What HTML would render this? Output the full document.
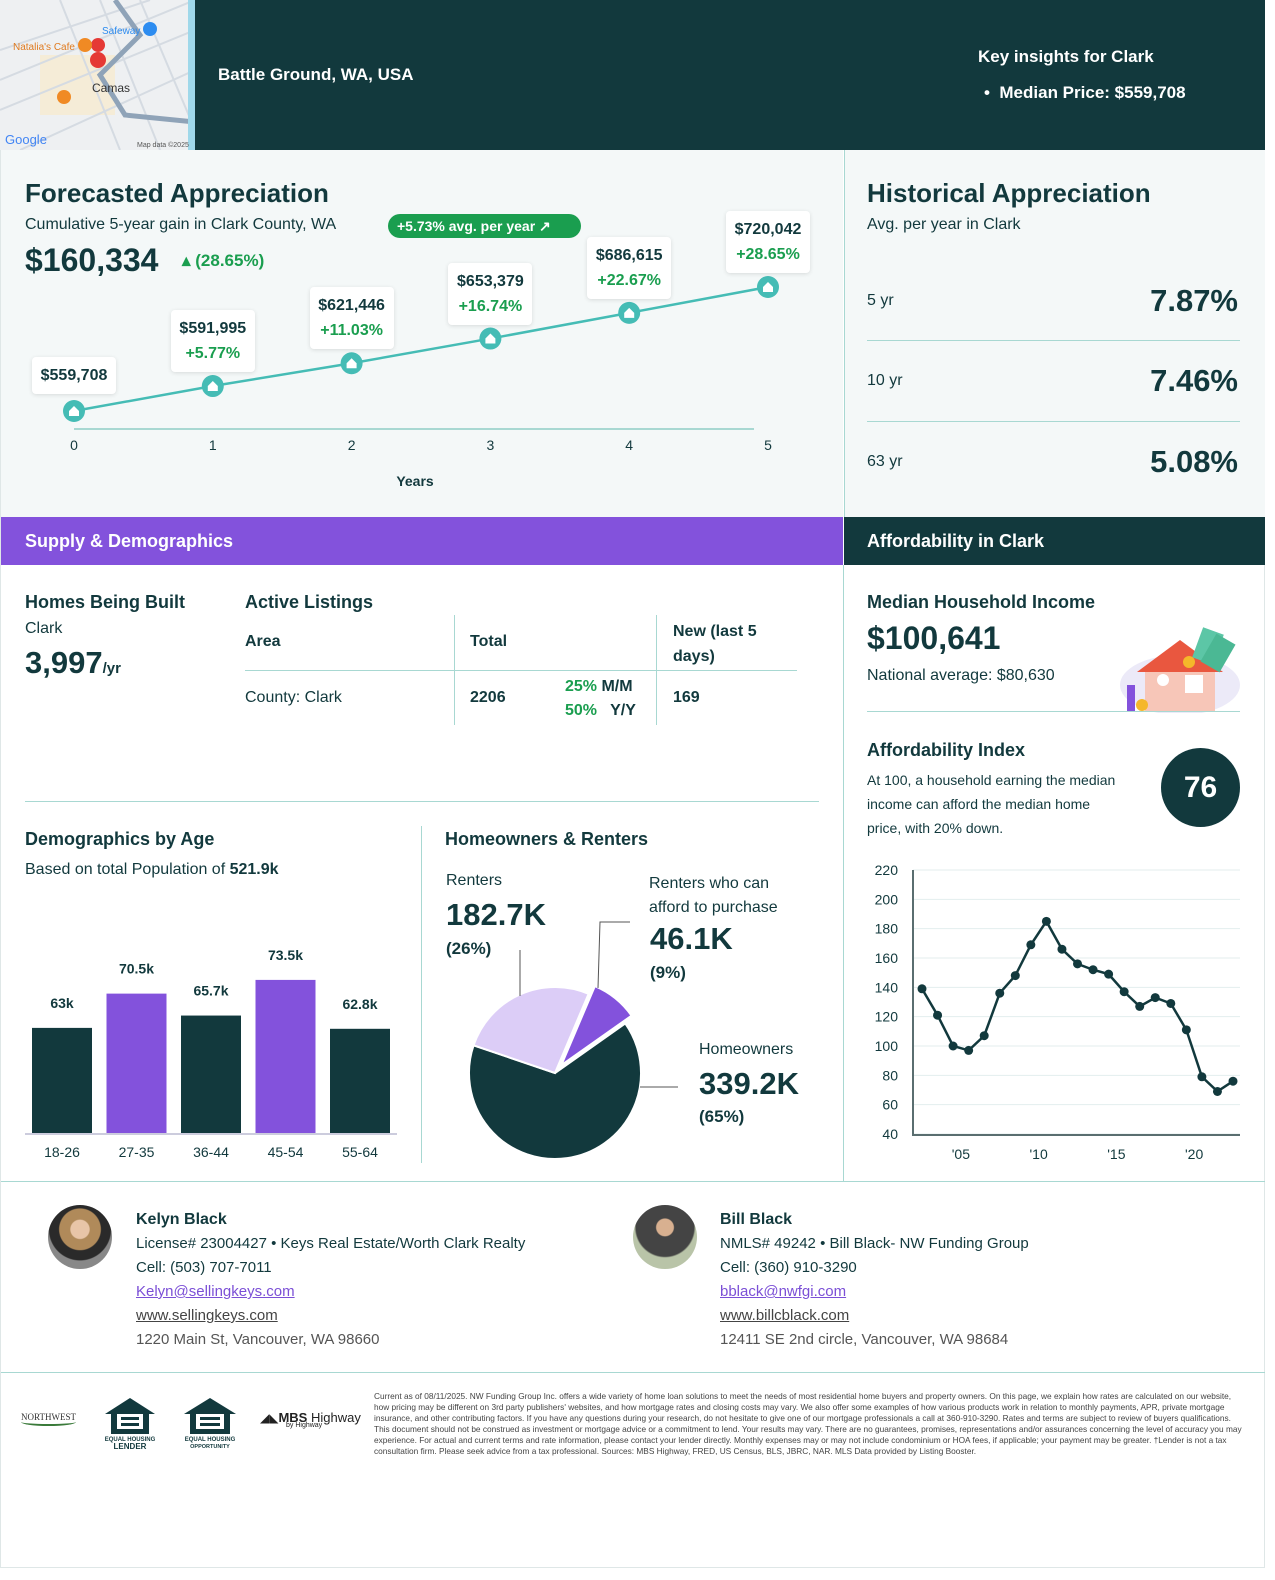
<!DOCTYPE html>
<html><head><meta charset="utf-8">
<style>
*{box-sizing:border-box;margin:0;padding:0}
html{overflow:hidden;width:1275px;height:1580px}
body{width:1275px;height:1580px;background:#fff;font-family:"Liberation Sans",sans-serif;color:#12393d;position:relative;overflow:hidden}
.a{position:absolute;white-space:nowrap}
.dark{color:#12393d}
.g{color:#1a9e4f}
.lbl{position:absolute;background:#fff;border-radius:4px;box-shadow:0 1px 4px rgba(0,0,0,.12);text-align:center;font-size:16px;font-weight:bold;padding:6px 8px;line-height:25px}
.lnk{color:#7b4fd6;text-decoration:underline}
</style></head><body>
<div class="a" style="left:0;top:0;width:1265px;height:1568px;border:1px solid #dfe7e7"></div>
<!-- header -->
<div class="a" style="left:0;top:0;width:1265px;height:150px;background:#12393d"></div>
<div class="a" style="left:0;top:0;width:195px;height:150px;background:#eef0f2;overflow:hidden">
<svg width="195" height="150">
<rect x="40" y="55" width="75" height="60" fill="#f5ecd7"/>
<g stroke="#d5dbe2" stroke-width="2"><line x1="0" y1="80" x2="195" y2="0"/><line x1="0" y1="110" x2="195" y2="30"/><line x1="0" y1="50" x2="150" y2="0"/><line x1="20" y1="150" x2="195" y2="70"/><line x1="60" y1="0" x2="120" y2="150"/><line x1="100" y1="0" x2="160" y2="150"/><line x1="140" y1="0" x2="195" y2="130"/></g>
<path d="M115 0 L140 35 L100 75 L125 115 L195 122" stroke="#8fa3b8" stroke-width="5" fill="none"/>
<rect x="188" y="0" width="7" height="150" fill="#9fd8ea"/>
<path d="M98 52 a7 7 0 1 1 0.1 0 L98 72 Z" fill="#e53935"/>
<circle cx="98" cy="60" r="8" fill="#e53935"/>
<circle cx="85" cy="45" r="7" fill="#f08a24"/><circle cx="64" cy="97" r="7" fill="#f08a24"/><circle cx="150" cy="29" r="7" fill="#2d8cf0"/>
<text x="13" y="50" font-size="10" fill="#e07b20" font-family="Liberation Sans">Natalia's Cafe</text>
<text x="102" y="34" font-size="10" fill="#2d8cf0" font-family="Liberation Sans">Safeway</text>
<text x="92" y="92" font-size="12" fill="#333" font-family="Liberation Sans">Camas</text>
<text x="5" y="144" font-size="13" fill="#4285f4" font-family="Liberation Sans">Google</text>
<text x="137" y="147" font-size="7" fill="#555" font-family="Liberation Sans">Map data ©2025</text>
</svg></div>
<div class="a" style="left:218px;top:65px;color:#fff;font-size:17px;font-weight:bold">Battle Ground, WA, USA</div>
<div class="a" style="left:978px;top:47px;color:#fff;font-size:17px;font-weight:bold">Key insights for Clark</div>
<div class="a" style="left:984px;top:83px;color:#fff;font-size:17px;font-weight:bold">•&nbsp; Median Price: $559,708</div>

<!-- forecast section -->
<div class="a" style="left:1px;top:150px;width:842px;height:367px;background:#f4f8f8"></div>
<div class="a" style="left:844px;top:150px;width:421px;height:367px;background:#f4f8f8;border-left:1px solid #a8d8d2"></div>
<div class="a" style="left:25px;top:178px;font-size:26px;font-weight:bold">Forecasted Appreciation</div>
<div class="a" style="left:25px;top:216px;font-size:16px">Cumulative 5-year gain in Clark County, WA</div>
<div class="a" style="left:388px;top:214px;width:193px;height:24px;background:#1a9e4f;border-radius:12px;color:#fff;font-size:14px;font-weight:bold;line-height:24px;padding-left:9px">+5.73% avg. per year ↗</div>
<div class="a" style="left:25px;top:242px;font-size:32px;font-weight:bold">$160,334</div>
<div class="a g" style="left:182px;top:251px;font-size:17px;font-weight:bold">▴ (28.65%)</div>
<svg class="a" id="fc" style="left:0;top:150px" width="843" height="360"></svg>
<div id="fclabels"></div>

<div class="a" style="left:867px;top:178px;font-size:26px;font-weight:bold">Historical Appreciation</div>
<div class="a" style="left:867px;top:216px;font-size:16px">Avg. per year in Clark</div>
<div class="a" style="left:867px;top:292px;font-size:16px">5 yr</div>
<div class="a" style="left:1100px;top:283px;width:138px;text-align:right;font-size:31px;font-weight:bold">7.87%</div>
<div class="a" style="left:867px;top:340px;width:373px;border-top:1px solid #a8d8d2"></div>
<div class="a" style="left:867px;top:372px;font-size:16px">10 yr</div>
<div class="a" style="left:1100px;top:363px;width:138px;text-align:right;font-size:31px;font-weight:bold">7.46%</div>
<div class="a" style="left:867px;top:421px;width:373px;border-top:1px solid #a8d8d2"></div>
<div class="a" style="left:867px;top:453px;font-size:16px">63 yr</div>
<div class="a" style="left:1100px;top:444px;width:138px;text-align:right;font-size:31px;font-weight:bold">5.08%</div>

<!-- bands -->
<div class="a" style="left:1px;top:517px;width:842px;height:48px;background:#8352dc;color:#fff;font-size:18px;font-weight:bold;line-height:48px;padding-left:24px">Supply &amp; Demographics</div>
<div class="a" style="left:844px;top:517px;width:421px;height:48px;background:#12393d;color:#fff;font-size:18px;font-weight:bold;line-height:48px;padding-left:23px">Affordability in Clark</div>
<div class="a" style="left:843px;top:565px;height:616px;border-left:1px solid #a8d8d2"></div>

<div class="a" style="left:25px;top:592px;font-size:18px;font-weight:bold">Homes Being Built</div>
<div class="a" style="left:25px;top:620px;font-size:16px">Clark</div>
<div class="a" style="left:25px;top:645px;font-size:31px;font-weight:bold">3,997<span style="font-size:15px">/yr</span></div>
<div class="a" style="left:245px;top:592px;font-size:18px;font-weight:bold">Active Listings</div>
<div class="a" style="left:245px;top:615px;width:552px;height:110px">
<div class="a" style="left:209px;top:0;height:110px;border-left:1px solid #a8d8d2"></div>
<div class="a" style="left:411px;top:0;height:110px;border-left:1px solid #a8d8d2"></div>
<div class="a" style="left:0;top:55px;width:552px;border-top:1px solid #a8d8d2"></div>
<div class="a" style="left:0;top:18px;font-size:16px;font-weight:bold">Area</div>
<div class="a" style="left:225px;top:18px;font-size:16px;font-weight:bold">Total</div>
<div class="a" style="left:428px;top:4px;font-size:16px;font-weight:bold;line-height:25px">New (last 5<br>days)</div>
<div class="a" style="left:0;top:74px;font-size:16px">County: Clark</div>
<div class="a" style="left:225px;top:74px;font-size:16px;font-weight:bold">2206</div>
<div class="a" style="left:320px;top:60px;font-size:16px;font-weight:bold;line-height:24px"><span class="g">25%</span> M/M<br><span class="g">50%</span>&nbsp;&nbsp; Y/Y</div>
<div class="a" style="left:428px;top:74px;font-size:16px;font-weight:bold">169</div>
</div>
<div class="a" style="left:25px;top:801px;width:794px;border-top:1px solid #a8d8d2"></div>

<div class="a" style="left:25px;top:829px;font-size:18px;font-weight:bold">Demographics by Age</div>
<div class="a" style="left:25px;top:861px;font-size:16px">Based on total Population of <b>521.9k</b></div>
<svg class="a" id="bars" style="left:0;top:930px" width="420" height="240"></svg>
<div class="a" style="left:421px;top:826px;height:337px;border-left:1px solid #a8d8d2"></div>

<div class="a" style="left:445px;top:829px;font-size:18px;font-weight:bold">Homeowners &amp; Renters</div>
<div class="a" style="left:446px;top:872px;font-size:16px">Renters</div>
<div class="a" style="left:446px;top:897px;font-size:31px;font-weight:bold">182.7K</div>
<div class="a" style="left:446px;top:939px;font-size:17px;font-weight:bold">(26%)</div>
<div class="a" style="left:649px;top:872px;font-size:16px;line-height:24px">Renters who can<br>afford to purchase</div>
<div class="a" style="left:650px;top:921px;font-size:31px;font-weight:bold">46.1K</div>
<div class="a" style="left:650px;top:963px;font-size:17px;font-weight:bold">(9%)</div>
<div class="a" style="left:699px;top:1041px;font-size:16px">Homeowners</div>
<div class="a" style="left:699px;top:1066px;font-size:31px;font-weight:bold">339.2K</div>
<div class="a" style="left:699px;top:1107px;font-size:17px;font-weight:bold">(65%)</div>
<svg class="a" id="pie" style="left:440px;top:900px" width="260" height="270"></svg>

<!-- affordability -->
<div class="a" style="left:867px;top:592px;font-size:18px;font-weight:bold">Median Household Income</div>
<div class="a" style="left:867px;top:620px;font-size:32px;font-weight:bold">$100,641</div>
<div class="a" style="left:867px;top:667px;font-size:16px">National average: $80,630</div>
<svg class="a" style="left:1115px;top:625px" width="125" height="88">
<ellipse cx="65" cy="60" rx="60" ry="30" fill="#eceaf8"/>
<rect x="30" y="45" width="70" height="42" fill="#f7c6b8"/><path d="M22 47 L65 15 L108 47 Z" fill="#e9573f"/>
<rect x="70" y="50" width="18" height="18" fill="#fff"/><circle cx="48" cy="55" r="6" fill="#fff"/>
<rect x="82" y="5" width="22" height="32" fill="#5cc6a6" transform="rotate(20 93 21)"/><rect x="92" y="12" width="22" height="32" fill="#4bb894" transform="rotate(30 103 28)"/>
<circle cx="74" cy="37" r="6" fill="#f5b72a"/><circle cx="27" cy="80" r="6" fill="#f5b72a"/><rect x="12" y="60" width="8" height="26" fill="#8352dc"/>
</svg>
<div class="a" style="left:867px;top:711px;width:373px;border-top:1px solid #a8d8d2"></div>
<div class="a" style="left:867px;top:740px;font-size:18px;font-weight:bold">Affordability Index</div>
<div class="a" style="left:867px;top:768px;font-size:14px;line-height:24px">At 100, a household earning the median<br>income can afford the median home<br>price, with 20% down.</div>
<div class="a" style="left:1161px;top:748px;width:79px;height:79px;border-radius:50%;background:#12393d;color:#fff;font-size:30px;font-weight:bold;text-align:center;line-height:79px">76</div>
<svg class="a" id="line" style="left:850px;top:855px" width="400" height="320"></svg>

<!-- agents -->
<div class="a" style="left:1px;top:1181px;width:1264px;border-top:1px solid #a8d8d2"></div>
<div class="a" style="left:48px;top:1205px;width:64px;height:64px;border-radius:50%;background:radial-gradient(circle at 50% 38%,#e8c5a8 0 18%,#b08a5a 20% 40%,#2a2a2a 42% 60%,#888 62%)"></div>
<div class="a" style="left:136px;top:1208px;font-size:15px;line-height:24px">
<b style="font-size:16px">Kelyn Black</b><br>License# 23004427 • Keys Real Estate/Worth Clark Realty<br>Cell: (503) 707-7011<br><span class="lnk">Kelyn@sellingkeys.com</span><br><span style="text-decoration:underline;color:#444">www.sellingkeys.com</span><br><span style="color:#555">1220 Main St, Vancouver, WA 98660</span></div>
<div class="a" style="left:633px;top:1205px;width:64px;height:64px;border-radius:50%;background:radial-gradient(circle at 50% 35%,#d8b090 0 16%,#444 18% 55%,#b9c4a8 58%)"></div>
<div class="a" style="left:720px;top:1208px;font-size:15px;line-height:24px">
<b style="font-size:16px">Bill Black</b><br>NMLS# 49242 • Bill Black- NW Funding Group<br>Cell: (360) 910-3290<br><span class="lnk">bblack@nwfgi.com</span><br><span style="text-decoration:underline;color:#444">www.billcblack.com</span><br><span style="color:#555">12411 SE 2nd circle, Vancouver, WA 98684</span></div>
<div class="a" style="left:1px;top:1372px;width:1264px;border-top:1px solid #a8d8d2"></div>

<!-- logos -->
<div class="a" style="left:21px;top:1412px;font-size:9px;font-family:'Liberation Serif',serif;color:#333">NORTHWEST<div style="width:55px;height:8px;border-bottom:2px solid #3a7a3a;border-radius:0 0 50% 50%;margin-top:-4px"></div></div>
<svg class="a" style="left:103px;top:1396px" width="55" height="54"><path d="M27 2 L52 18 L46 18 L46 38 L8 38 L8 18 L2 18 Z" fill="#12393d"/><rect x="14" y="18" width="26" height="15" fill="#fff"/><rect x="18" y="21" width="18" height="3" fill="#12393d"/><rect x="18" y="27" width="18" height="3" fill="#12393d"/><text x="27" y="45" font-size="6" text-anchor="middle" font-family="Liberation Sans" font-weight="bold" fill="#12393d">EQUAL HOUSING</text><text x="27" y="53" font-size="8" text-anchor="middle" font-family="Liberation Sans" font-weight="bold" fill="#12393d">LENDER</text></svg>
<svg class="a" style="left:181px;top:1396px" width="58" height="54"><path d="M29 2 L55 18 L49 18 L49 38 L9 38 L9 18 L3 18 Z" fill="#12393d"/><rect x="15" y="18" width="28" height="15" fill="#fff"/><rect x="19" y="21" width="20" height="3" fill="#12393d"/><rect x="19" y="27" width="20" height="3" fill="#12393d"/><text x="29" y="45" font-size="6" text-anchor="middle" font-family="Liberation Sans" font-weight="bold" fill="#12393d">EQUAL HOUSING</text><text x="29" y="52" font-size="5.5" text-anchor="middle" font-family="Liberation Sans" font-weight="bold" fill="#12393d">OPPORTUNITY</text></svg>
<div class="a" style="left:260px;top:1410px;font-size:13px;color:#222"><span style="font-size:12px">◢◣</span><b>MBS</b> Highway<div style="font-size:7px;margin-left:26px;margin-top:-3px">by Highway</div></div>
<div class="a" style="left:374px;top:1391px;width:874px;white-space:normal;font-size:8.3px;line-height:10.9px;color:#444">Current as of 08/11/2025. NW Funding Group Inc. offers a wide variety of home loan solutions to meet the needs of most residential home buyers and property owners. On this page, we explain how rates are calculated on our website, how pricing may be different on 3rd party publishers' websites, and how mortgage rates and closing costs may vary. We also offer some examples of how various products work in relation to monthly payments, APR, private mortgage insurance, and other contributing factors. If you have any questions during your research, do not hesitate to give one of our mortgage professionals a call at 360-910-3290. Rates and terms are subject to review of buyers qualifications.<br>This document should not be construed as investment or mortgage advice or a commitment to lend. Your results may vary. There are no guarantees, promises, representations and/or assurances concerning the level of accuracy you may experience. For actual and current terms and rate information, please contact your lender directly. Monthly expenses may or may not include condominium or HOA fees, if applicable; your payment may be greater. †Lender is not a tax consultation firm. Please seek advice from a tax professional. Sources: MBS Highway, FRED, US Census, BLS, JBRC, NAR. MLS Data provided by Listing Booster.</div>

<script>
const NS='http://www.w3.org/2000/svg';
function mk(p,t,a){const e=document.createElementNS(NS,t);for(const k in a)e.setAttribute(k,a[k]);p.appendChild(e);return e;}
// forecast
const fcYears=[0,1,2,3,4,5];
const fcValues=[559708,591995,621446,653379,686615,720042];
const fcPct=['','+5.77%','+11.03%','+16.74%','+22.67%','+28.65%'];
const fcLabels=['$559,708','$591,995','$621,446','$653,379','$686,615','$720,042'];
(function(){
const s=document.getElementById('fc');
const fx=y=>74+y*(768-74)/5, fy=v=>261-(v-559708)*(124/160334);
const ax=mk(s,'line',{x1:74,y1:279,x2:754,y2:279,stroke:'#a8d8d2','stroke-width':2});

const pl=mk(s,'polyline',{points:fcYears.map((y,i)=>fx(y)+','+fy(fcValues[i])).join(' '),fill:'none',stroke:'#45bcb5','stroke-width':2.5});

const L=document.getElementById('fclabels');
fcYears.forEach((y,i)=>{
 const t=mk(s,'text',{x:fx(y),y:300,'text-anchor':'middle','font-size':14,fill:'#12393d','font-family':'Liberation Sans'});t.textContent=y;
 
 const c=mk(s,'circle',{cx:fx(y),cy:fy(fcValues[i]),r:11,fill:'#45bcb5'});
 
 mk(s,'path',{d:`M${fx(y)-5} ${fy(fcValues[i])+5}v-5l5-5 5 5v5z`,fill:'#fff'});
 const d=document.createElement('div');d.className='lbl';
 
 d.innerHTML=fcLabels[i]+(fcPct[i]?'<br><span class="g">'+fcPct[i]+'</span>':'');
 const h=fcPct[i]?56:34;
 d.style.left=(fx(y)-42)+'px';d.style.width='84px';d.style.top=(150+fy(fcValues[i])-20-h)+'px';
 L.appendChild(d);
});
const tt=mk(s,'text',{x:415,y:336,'text-anchor':'middle','font-size':14,'font-weight':'bold',fill:'#12393d','font-family':'Liberation Sans'});tt.textContent='Years';

})();
// bars
const ageCats=['18-26','27-35','36-44','45-54','55-64'];
const ageVals=[63,70.5,65.7,73.5,62.8];
const ageLabels=['63k','70.5k','65.7k','73.5k','62.8k'];
(function(){
const s=document.getElementById('bars');const base=203;
const by=v=>base-(v-40)*4.57, bx=i=>32+i*74.5;
ageCats.forEach((c,i)=>{
 const r=mk(s,'rect',{x:bx(i),y:by(ageVals[i]),width:60,height:base-by(ageVals[i]),fill:i%2?'#8352dc':'#12393d'});
 
 const t=mk(s,'text',{x:bx(i)+30,y:by(ageVals[i])-20,'text-anchor':'middle','font-size':14,'font-weight':'bold',fill:'#12393d','font-family':'Liberation Sans'});t.textContent=ageLabels[i];
 
 const x=mk(s,'text',{x:bx(i)+30,y:base+24,'text-anchor':'middle','font-size':14,fill:'#12393d','font-family':'Liberation Sans'});x.textContent=c;
 
});
const a=mk(s,'line',{x1:25,y1:base+1,x2:397,y2:base+1,stroke:'#ccd',"stroke-width":2});

})();
// pie
const pieCats=['Renters who can afford','Homeowners','Renters'];
const pieVals=[46.1,339.2,136.6];
(function(){
const s=document.getElementById('pie');const cx=115,cy=173,R=86;const cols=['#8352dc','#12393d','#dccdf7'];
const tot=pieVals.reduce((a,b)=>a+b,0);let ang=23;
const P=(a,r,ox,oy)=>[ox+r*Math.sin(a*Math.PI/180),oy-r*Math.cos(a*Math.PI/180)];
pieVals.forEach((v,i)=>{
 const sw=v/tot*360, mid=ang+sw/2; const off=i==0?10:0;
 const ox=cx+off*Math.sin(mid*Math.PI/180), oy=cy-off*Math.cos(mid*Math.PI/180);
 const a1=P(ang,R,ox,oy),a2=P(ang+sw,R,ox,oy);
 const p=mk(s,'path',{d:`M${ox} ${oy}L${a1[0]} ${a1[1]}A${R} ${R} 0 ${sw>180?1:0} 1 ${a2[0]} ${a2[1]}Z`,fill:cols[i],stroke:'#fff','stroke-width':2});
 
 ang+=sw;
});
mk(s,'polyline',{points:'80,96 80,50',stroke:'#555',fill:'none','stroke-width':1});
mk(s,'polyline',{points:'158,88 160,22 190,22',stroke:'#555',fill:'none','stroke-width':1});
mk(s,'line',{x1:200,y1:187,x2:238,y2:187,stroke:'#555','stroke-width':1});
})();
// line chart
const afYears=[2003,2004,2005,2006,2007,2008,2009,2010,2011,2012,2013,2014,2015,2016,2017,2018,2019,2020,2021,2022,2023];
const afVals=[139,121,100,97,107,136,148,169,185,166,156,152,149,137,127,133,129,111,79,69,76];
const afTicks=[40,60,80,100,120,140,160,180,200,220];
const afXTicks=["'05","'10","'15","'20"];
(function(){
const s=document.getElementById('line');
const ly=v=>279-(v-40)*(264/180), lx=y=>72+(y-2003)*15.55;
afTicks.forEach(t=>{
 const g=mk(s,'line',{x1:63,y1:ly(t),x2:390,y2:ly(t),stroke:'#e3eeee','stroke-width':1});
 
 const tx=mk(s,'text',{x:48,y:ly(t)+5,'text-anchor':'end','font-size':14,fill:'#12393d','font-family':'Liberation Sans'});tx.textContent=t;
 
});
mk(s,'line',{x1:63,y1:ly(220),x2:63,y2:280,stroke:'#5a6e70','stroke-width':2});
mk(s,'line',{x1:62,y1:280,x2:390,y2:280,stroke:'#5a6e70','stroke-width':2});
afXTicks.forEach((t,i)=>{const x=mk(s,'text',{x:lx(2005.5+i*5),y:304,'text-anchor':'middle','font-size':14,fill:'#12393d','font-family':'Liberation Sans'});x.textContent=t;
 });
const pl=mk(s,'polyline',{points:afYears.map((y,i)=>lx(y)+','+ly(afVals[i])).join(' '),fill:'none',stroke:'#12393d','stroke-width':2.5});

afYears.forEach((y,i)=>{const c=mk(s,'circle',{cx:lx(y),cy:ly(afVals[i]),r:4.5,fill:'#12393d'});
 });
})();
</script>
</body></html>
